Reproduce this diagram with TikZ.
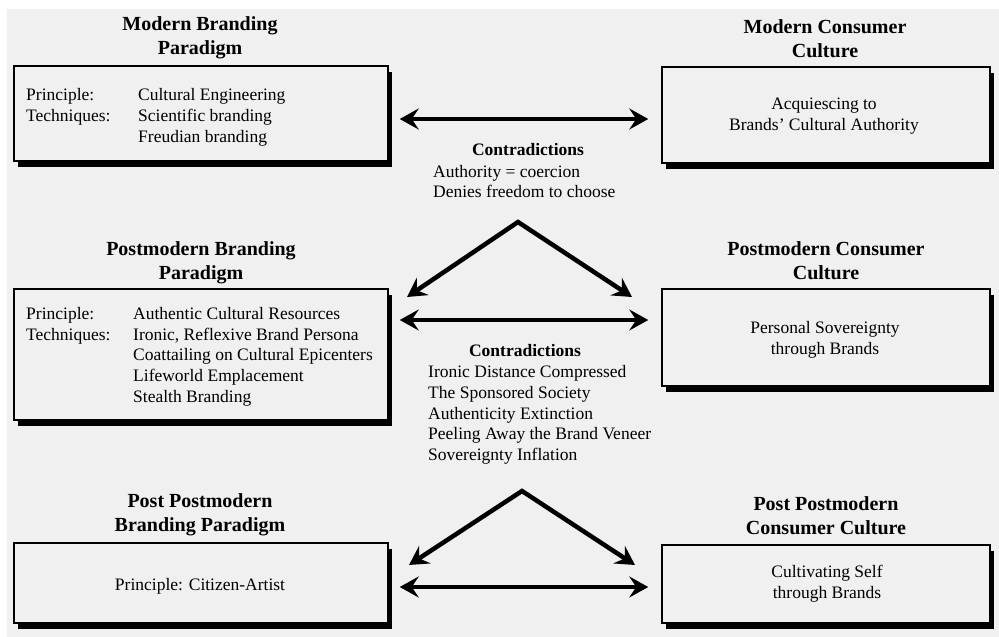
\documentclass[tikz,border=0pt]{standalone}
\usepackage{fontspec}
\setmainfont{Liberation Serif}
\usetikzlibrary{arrows.meta,shadows}
\definecolor{paper}{RGB}{240,240,240}

\begin{document}
\begin{tikzpicture}[x=1pt,y=-1pt]

\tikzstyle{box}=[rectangle,draw=black,line width=1.5pt,fill=paper,inner sep=0pt,drop shadow={shadow xshift=4pt,shadow yshift=-6pt,fill=black,opacity=1}]
\tikzstyle{head}=[font=\fontsize{20}{24}\selectfont\bfseries,align=center,inner sep=0pt,anchor=north]
\tikzstyle{body}=[font=\fontsize{17.5}{20.7}\selectfont,inner sep=0pt]
\tikzstyle{conhead}=[font=\fontsize{17.5}{20.7}\selectfont\bfseries,inner sep=0pt,anchor=base]
\tikzstyle{dbl}=[{Stealth[length=19pt,width=21pt,inset=7pt]}-{Stealth[length=19pt,width=21pt,inset=7pt]},line width=4.5pt,line join=miter]

\useasboundingbox (0,0) rectangle (999,637);
\fill[white] (0,0) rectangle (999,637);
\fill[paper] (7,9) rectangle (999,637);

%boxes.
\node[box,minimum width=374pt,minimum height=95pt] (mbp) at (201,113.5) {};
\node[box,minimum width=328pt,minimum height=96pt] (mcc) at (826,115) {};
\node[box,minimum width=374pt,minimum height=131pt] (pbp) at (201,354.5) {};
\node[box,minimum width=328pt,minimum height=97pt] (pcc) at (826,337.5) {};
\node[box,minimum width=374pt,minimum height=80pt] (ppbp) at (201,583) {};
\node[box,minimum width=328pt,minimum height=78pt] (ppcc) at (826,584) {};

%titles.
\node[head] (mbpt) at (200,16) {Modern Branding\\Paradigm};
\node[head] (mcct) at (825,19) {Modern Consumer\\Culture};
\node[head] (pbpt) at (201,241) {Postmodern Branding\\Paradigm};
\node[head] (pcct) at (826,241) {Postmodern Consumer\\Culture};
\node[head] (ppbpt) at (200,493) {Post Postmodern\\Branding Paradigm};
\node[head] (ppcct) at (826,496) {Post Postmodern\\Consumer Culture};

%box texts.
\node[body,align=left,anchor=north west] (mbpa) at (26,88.6) {Principle:\\Techniques:};
\node[body,align=left,anchor=north west] (mbpb) at (138,88.6) {Cultural Engineering\\Scientific branding\\Freudian branding};
\node[body,align=center,anchor=north] (mcca) at (824,98) {Acquiescing to\\Brands' Cultural Authority};
\node[body,align=left,anchor=north west] (pbpa) at (26,307) {Principle:\\Techniques:};
\node[body,align=left,anchor=north west] (pbpb) at (133,307) {Authentic Cultural Resources\\Ironic, Reflexive Brand Persona\\Coattailing on Cultural Epicenters\\Lifeworld Emplacement\\Stealth Branding};
\node[body,align=center,anchor=north] (pcca) at (825,321) {Personal Sovereignty\\through Brands};
\node[body,anchor=base] (ppbpa) at (200,590) {Principle: Citizen-Artist};
\node[body,align=center,anchor=north] (ppcca) at (827,565) {Cultivating Self\\through Brands};

%contradictions.
\node[conhead] (con1) at (528,155.7) {Contradictions};
\node[body,align=left,anchor=north west] (list1) at (433,164.7) {Authority = coercion\\Denies freedom to choose};
\node[conhead] (con2) at (525,356.7) {Contradictions};
\node[body,align=left,anchor=north west] (list2) at (428,365.4) {Ironic Distance Compressed\\The Sponsored Society\\Authenticity Extinction\\Peeling Away the Brand Veneer\\Sovereignty Inflation};

\coordinate (row1) at (524,119);
\coordinate (row2) at (524,320);
\coordinate (row3) at (524,587);
\coordinate (apex1) at (518,222);
\coordinate (left1) at (407,297);
\coordinate (right1) at (632,297);
\coordinate (apex2) at (522,491);
\coordinate (left2) at (409,565);
\coordinate (right2) at (635,565);

\draw[dbl,shorten <=11pt,shorten >=13pt] (mbp.east |- row1) -- (mcc.west |- row1);
\draw[dbl,shorten <=11pt,shorten >=13pt] (pbp.east |- row2) -- (pcc.west |- row2);
\draw[dbl,shorten <=11pt,shorten >=13pt] (ppbp.east |- row3) -- (ppcc.west |- row3);
\draw[dbl] (left1) -- (apex1) -- (right1);
\draw[dbl] (left2) -- (apex2) -- (right2);

\end{tikzpicture}
\end{document}
